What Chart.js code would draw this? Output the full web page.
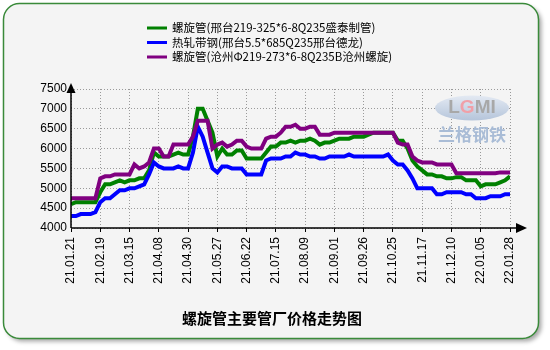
<!DOCTYPE html>
<html><head><meta charset="utf-8">
<script src="https://cdn.jsdelivr.net/npm/chart.js@4/dist/chart.umd.min.js"></script>
<style>html,body{margin:0;padding:0;background:#fff;}canvas{display:block;}</style>
</head><body>
<canvas id="c" width="550" height="350"></canvas>
<script>
const tickLabels = ['21.01.21','21.02.19','21.03.15','21.04.08','21.04.30','21.05.27','21.06.22','21.07.15','21.08.09','21.09.01','21.09.26','21.10.25','21.11.17','21.12.10','22.01.05','22.01.28'];
const seriesNames = ['螺旋管(邢台219-325*6-8Q235盛泰制管)','热轧带钢(邢台5.5*685Q235邢台德龙)','螺旋管(沧州Φ219-273*6-8Q235B沧州螺旋)'];
const titleText = '螺旋管主要管厂价格走势图';
const greenValues = [4600,4650,4650,4650,4650,4650,4900,5100,5100,5150,5200,5150,5200,5200,5250,5250,5450,5900,5800,5800,5800,5850,5900,5850,
 5850,6300,7000,7000,6700,6400,5800,6000,5850,5850,5950,5950,5750,5750,5750,5750,5900,6050,6050,6150,6150,6200,6150,6200,6200,
 6250,6200,6100,6150,6150,6200,6250,6250,6250,6300,6300,6300,6350,6400,6400,6400,6400,6400,6200,6200,6000,5700,5550,5450,5350,5350,5300,5300,5250,5250,5280,5280,5200,5200,5200,5050,5100,5100,5100,5150,5200,5300];
const blueValues = [4300,4300,4350,4350,4350,4400,4650,4750,4750,4850,4950,4950,5000,5000,5050,5100,5350,5650,5550,5500,5500,5500,5550,5500,
 5500,5900,6550,6300,5900,5500,5400,5550,5550,5500,5500,5500,5350,5350,5350,5350,5700,5750,5750,5750,5800,5800,5900,5850,5850,
 5800,5800,5750,5750,5800,5800,5800,5800,5850,5800,5800,5800,5800,5800,5800,5800,5850,5700,5600,5600,5450,5250,5000,5000,5000,5000,4850,4850,4900,4900,4900,4900,4850,4850,4750,4750,4750,4800,4800,4800,4850,4850];
const purpleValues = [4750,4750,4750,4750,4750,4750,5250,5300,5300,5350,5350,5350,5350,5600,5500,5550,5650,6000,6000,5800,5800,6100,6100,6100,
 6100,6300,6700,6700,6700,6000,6100,6150,6050,6100,6200,6200,6050,6000,6000,6000,6250,6300,6300,6400,6550,6550,6600,6500,6500,
 6550,6550,6350,6350,6350,6400,6400,6400,6400,6400,6400,6400,6400,6400,6400,6400,6400,6400,6150,6100,6100,5800,5700,5650,5650,5650,5600,5600,5600,5600,5380,5380,5380,5380,5380,5380,5380,5380,5380,5400,5400,5400];
const seriesColors = ['#008000','#0000ff','#800080'];

const pts = arr => arr.map((v, i) => ({x: i, y: v}));
const allSeries = [greenValues, blueValues, purpleValues];

const decor = {
  id: 'decor',
  beforeDraw(chart) {
    const ctx = chart.ctx;
    ctx.save();
    ctx.fillStyle = '#ffffff';
    ctx.fillRect(0, 0, chart.width, chart.height);
    ctx.shadowColor = 'rgba(0,0,0,0.35)';
    ctx.shadowBlur = 4; ctx.shadowOffsetX = 3; ctx.shadowOffsetY = 3;
    ctx.beginPath(); ctx.roundRect(3.5, 3.5, 535, 335, 16);
    ctx.fillStyle = '#f4f4f4'; ctx.fill();
    ctx.shadowColor = 'transparent';
    ctx.lineWidth = 1.5; ctx.strokeStyle = '#3a8a3a'; ctx.stroke();
    ctx.restore();
  },
  beforeDatasetsDraw(chart) {
    const ctx = chart.ctx;
    ctx.save();
    const g = ctx.createLinearGradient(0, 95, 0, 121);
    g.addColorStop(0, '#e4eaf3'); g.addColorStop(1, '#b4c4da');
    ctx.beginPath(); ctx.ellipse(472, 108, 37, 12.5, 0, 0, Math.PI * 2);
    ctx.fillStyle = g; ctx.fill();
    ctx.font = 'bold 19px "Liberation Sans"'; ctx.textBaseline = 'middle'; ctx.textAlign = 'left';
    const parts = [['L', '#a8a8a8'], ['G', '#f0a0a8'], ['MI', '#a8a8a8']];
    let total = parts.reduce((s, p) => s + ctx.measureText(p[0]).width, 0);
    let x = 472 - total / 2;
    for (const [t, c] of parts) { ctx.fillStyle = c; ctx.fillText(t, x, 108); x += ctx.measureText(t).width; }
    ctx.font = 'bold 17px "Noto Sans CJK SC"'; ctx.fillStyle = '#a9bcd6'; ctx.textAlign = 'center';
    ctx.fillText('兰格钢铁', 472, 135);
    ctx.restore();
  },
  afterDraw(chart) {
    const ctx = chart.ctx, a = chart.chartArea;
    ctx.save();
    ctx.strokeStyle = '#000'; ctx.fillStyle = '#000'; ctx.lineWidth = 1.5;
    ctx.beginPath(); ctx.moveTo(a.left, a.bottom); ctx.lineTo(a.left, 88); ctx.stroke();
    ctx.beginPath(); ctx.moveTo(a.left, a.bottom); ctx.lineTo(518, a.bottom); ctx.stroke();
    ctx.beginPath(); ctx.moveTo(a.left, 83); ctx.lineTo(a.left - 4.5, 93); ctx.lineTo(a.left + 4.5, 93); ctx.closePath(); ctx.fill();
    ctx.beginPath(); ctx.moveTo(527, a.bottom); ctx.lineTo(516, a.bottom - 5); ctx.lineTo(516, a.bottom + 5); ctx.closePath(); ctx.fill();
    // legend
    ctx.font = '11.5px "Noto Sans CJK SC"'; ctx.textBaseline = 'middle'; ctx.textAlign = 'left';
    seriesNames.forEach((name, k) => {
      const y = 28 + k * 14.5;
      ctx.strokeStyle = seriesColors[k]; ctx.lineWidth = 3;
      ctx.beginPath(); ctx.moveTo(147, y); ctx.lineTo(167, y); ctx.stroke();
      ctx.fillStyle = '#000'; ctx.fillText(name, 172, y);
    });
    // title
    ctx.font = 'bold 15px "Noto Sans CJK SC"'; ctx.textAlign = 'center';
    ctx.fillText(titleText, 272, 318);
    ctx.restore();
  }
};

new Chart(document.getElementById('c'), {
  type: 'line',
  data: {
    datasets: seriesNames.map((name, k) => ({
      label: name, data: pts(allSeries[k]), borderColor: seriesColors[k], backgroundColor: seriesColors[k],
      borderWidth: 4, pointRadius: 0, tension: 0, fill: false, order: 3 - k
    }))
  },
  options: {
    responsive: false, animation: false, devicePixelRatio: 1,
    layout: {padding: {left: 0, right: 40, top: 89, bottom: 62}},
    plugins: {legend: {display: false}, tooltip: {enabled: false}, title: {display: false}},
    scales: {
      x: {
        type: 'linear', min: 0, max: 90, position: 'bottom',
        afterFit(s) { s.height = 60; },
        ticks: {stepSize: 6, autoSkip: false, minRotation: 90, maxRotation: 90, padding: 5, color: '#000',
          font: {family: '"Liberation Sans"', size: 12}, callback: v => tickLabels[v / 6] ?? ''},
        grid: {color: '#9a9a9a', lineWidth: 1, drawTicks: true, tickLength: 4, tickColor: '#000', tickWidth: 1},
        border: {display: false, dash: [1, 2]}
      },
      y: {
        min: 4000, max: 7500,
        afterFit(s) { s.width = 71; },
        ticks: {stepSize: 500, padding: 4, color: '#000', font: {family: '"Liberation Sans"', size: 12}, callback: v => String(v)},
        grid: {color: '#9a9a9a', lineWidth: 1, drawTicks: false},
        border: {display: false, dash: [1, 2]}
      }
    }
  },
  plugins: [decor]
});
</script>
</body></html>
